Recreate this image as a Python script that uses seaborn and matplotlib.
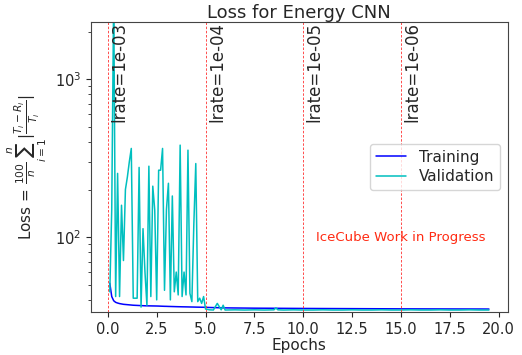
import numpy as np
import pandas as pd
import matplotlib
matplotlib.use("Agg")
import matplotlib.pyplot as plt
import seaborn as sns

# epochs (dense during the first lrate stage, coarser later)
epochs = [0.1, 0.2, 0.3, 0.4, 0.5, 0.6, 0.7, 0.8, 0.9, 1.0,
          1.1, 1.2, 1.3, 1.4, 1.5, 1.6, 1.7, 1.8, 1.9, 2.0,
          2.1, 2.2, 2.3, 2.4, 2.5, 2.6, 2.7, 2.8, 2.9, 3.0,
          3.1, 3.2, 3.3, 3.4, 3.5, 3.6, 3.7, 3.8, 3.9, 4.0,
          4.1, 4.2, 4.3, 4.4, 4.5, 4.6, 4.7, 4.8, 4.9, 5.0,
          5.2, 5.4, 5.6, 5.8, 5.9, 6.0, 6.5, 7.0, 7.5, 8.0,
          8.5, 8.6, 8.7, 9.0, 9.5, 10.0, 10.5, 11.0, 11.5, 12.0,
          12.5, 13.0, 13.5, 14.0, 14.5, 15.0, 15.5, 16.0, 16.5, 17.0,
          17.5, 18.0, 18.5, 19.0, 19.5]

training = [51.0, 42.0, 39.5, 38.6, 38.2, 37.9, 37.7, 37.5, 37.4, 37.3,
            37.2, 37.1, 37.0, 36.95, 36.9, 36.85, 36.8, 36.75, 36.7, 36.68,
            36.66, 36.64, 36.62, 36.6, 36.58, 36.55, 36.5, 36.46, 36.42, 36.4,
            36.36, 36.33, 36.3, 36.27, 36.24, 36.21, 36.19, 36.16, 36.14, 36.12,
            36.1, 36.07, 36.05, 36.03, 36.0, 35.98, 35.96, 35.94, 35.92, 35.9,
            35.8, 35.75, 35.7, 35.65, 35.62, 35.6, 35.55, 35.5, 35.45, 35.42,
            35.4, 35.4, 35.38, 35.36, 35.33, 35.3, 35.28, 35.26, 35.24, 35.22,
            35.2, 35.18, 35.16, 35.14, 35.12, 35.1, 35.09, 35.08, 35.07, 35.06,
            35.05, 35.04, 35.03, 35.02, 35.0]

validation = [45, 150, 3500, 42, 253, 42, 159, 71, 200, 240,
              300, 364, 41, 41, 41, 276, 36, 113, 60, 37,
              281, 42, 210, 148, 40, 265, 265, 364, 46, 150,
              219, 40, 182, 45, 60, 43, 382, 42, 60, 43,
              355, 44, 39, 120, 292, 39, 41, 38, 42, 35,
              34.6, 34.5, 38.0, 34.6, 37.0, 34.5, 34.6, 34.5, 34.6, 34.5,
              34.6, 35.6, 34.6, 34.5, 34.6, 34.5, 34.5, 34.6, 34.5, 34.5,
              34.6, 34.5, 34.5, 34.6, 34.5, 34.5, 34.6, 34.5, 34.5, 34.6,
              34.5, 34.5, 34.6, 34.5, 34.5]

lrate_epochs = [0, 5, 10, 15]
lrate_labels = ["lrate=1e-03", "lrate=1e-04", "lrate=1e-05", "lrate=1e-06"]

df = pd.DataFrame({"epoch": epochs, "Training": training, "Validation": validation})

sns.set_style("ticks")
plt.rcParams["font.family"] = ["DejaVu Sans"]

fig = plt.figure(figsize=(5.22, 3.55), dpi=100)
ax = fig.add_axes([0.174, 0.121, 0.799, 0.817])

sns.lineplot(data=df, x="epoch", y="Training", color="blue", lw=1.1,
             label="Training", estimator=None, ax=ax)
sns.lineplot(data=df, x="epoch", y="Validation", color="c", lw=1.1,
             label="Validation", estimator=None, ax=ax)

ax.set_yscale("log")
ax.set_ylim(33.5, 2300)

for e, lab in zip(lrate_epochs, lrate_labels):
    ax.axvline(e, color="#ff3030", ls=(0, (3, 2)), lw=0.6)
    ax.text(e + 0.12, 535, lab, rotation=90, ha="left", va="bottom", fontsize=12)

ax.text(10.65, 100, "IceCube Work in Progress", color="#ff2a12",
        fontsize=9.5, va="center")

ax.set_title("Loss for Energy CNN", fontsize=13, pad=1.5)
ax.set_xlabel("Epochs", fontsize=11, labelpad=1)
ax.set_ylabel(r"Loss = $\frac{100}{n}\sum_{i=1}^{n}|\frac{T_i-R_i}{T_i}|$", fontsize=11)
ax.tick_params(labelsize=10.5)
ax.set_xticks([0, 2.5, 5, 7.5, 10, 12.5, 15, 17.5, 20])
ax.set_xticklabels(["0.0", "2.5", "5.0", "7.5", "10.0", "12.5", "15.0", "17.5", "20.0"])
ax.set_xlim(-0.87, 20.47)
for s in ax.spines.values():
    s.set_color("#444444")

ax.legend(loc="center right", fontsize=11, labelspacing=0.3)

fig.savefig("out.png", dpi=100)
